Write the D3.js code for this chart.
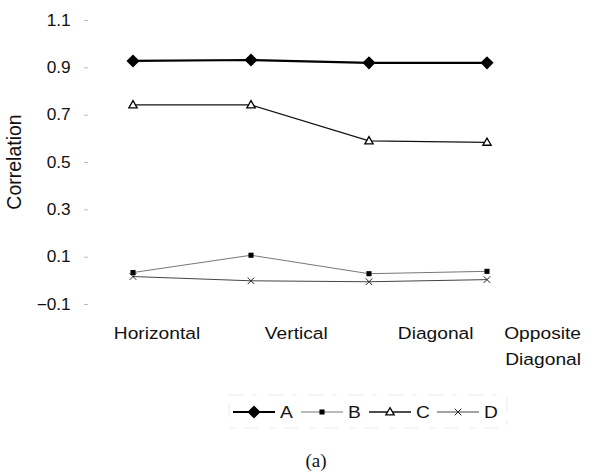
<!DOCTYPE html>
<html>
<head>
<meta charset="utf-8">
<script src="https://cdn.jsdelivr.net/npm/d3@7"></script>
<style>
  body { margin: 0; background: #fff; }
  text { font-family: "Liberation Sans", Arial, sans-serif; fill: #111; }
</style>
</head>
<body>
<div id="chart"></div>
<script>
const categories = ["Horizontal", "Vertical", "Diagonal", "Opposite Diagonal"];
const seriesNames = ["A", "B", "C", "D"];
const valuesA = [0.927, 0.931, 0.919, 0.919];
const valuesB = [0.033, 0.106, 0.028, 0.038];
const valuesC = [0.741, 0.741, 0.589, 0.583];
const valuesD = [0.016, -0.002, -0.006, 0.003];
const yTicks = [-0.1, 0.1, 0.3, 0.5, 0.7, 0.9, 1.1];

const series = [
    { name: "A", values: valuesA, color: "#000", width: 2.2, marker: "diamond" },
    { name: "B", values: valuesB, color: "#777", width: 1, marker: "square" },
    { name: "C", values: valuesC, color: "#111", width: 1.3, marker: "triangle" },
    { name: "D", values: valuesD, color: "#444", width: 1, marker: "cross" }
];

const W = 616, H = 476;
const stretch = 1.13; // the scanned text is a little wide

const svg = d3.select("#chart")
    .append("svg")
    .attr("width", W)
    .attr("height", H);

// scales
const x = d3.scalePoint().domain(categories).range([133, 487]);
const xLabel = d3.scalePoint().domain(categories).range([157, 575]);
const y = d3.scaleLinear().domain([-0.1, 1.1]).range([304, 20]);

// y axis: labels and small faint ticks, no axis line
const yAxis = svg.append("g")
    .attr("transform", "translate(88,0)")
    .call(d3.axisLeft(y).tickValues(yTicks).tickSize(4).tickPadding(12)
        .tickFormat(d3.format(".1f")));
yAxis.select(".domain").remove();
yAxis.selectAll(".tick line").attr("stroke", "#bbb");
yAxis.selectAll(".tick text")
    .style("font-size", "16px")
    .style("font-family", "'Liberation Sans', Arial, sans-serif")
    .attr("fill", "#111")
    .attr("transform", `scale(1.08,1)`);

svg.append("text")
    .attr("transform", "translate(21,162) rotate(-90)")
    .attr("text-anchor", "middle")
    .style("font-size", "19.5px")
    .text("Correlation");

// category labels
categories.forEach((c, i) => {
    const words = c.split(" ");
    const last = i === categories.length - 1;
    const g = svg.append("g")
        .attr("transform", `translate(${last ? 581 : xLabel(c)},339) scale(${stretch},1)`);
    const t = g.append("text")
        .attr("text-anchor", last ? "end" : "middle")
        .style("font-size", "17px");
    words.forEach((w, j) => {
        t.append("tspan")
            .attr("x", 0)
            .attr("dy", j === 0 ? 0 : 26)
            .text(w);
    });
});

// markers
function drawMarker(g, type, cx, cy) {
    if (type === "diamond") {
        g.append("path")
            .attr("d", d3.symbol(d3.symbolDiamond2, 110)())
            .attr("transform", `translate(${cx},${cy})`)
            .attr("fill", "#000");
    } else if (type === "square") {
        g.append("path")
            .attr("d", d3.symbol(d3.symbolSquare, 26)())
            .attr("transform", `translate(${cx},${cy})`)
            .attr("fill", "#000");
    } else if (type === "triangle") {
        g.append("path")
            .attr("d", d3.symbol(d3.symbolTriangle, 30)())
            .attr("transform", `translate(${cx},${cy + 0.5})`)
            .attr("fill", "#fff")
            .attr("stroke", "#000")
            .attr("stroke-width", 1.3);
    } else {
        g.append("path")
            .attr("d", d3.symbol(d3.symbolX, 30)())
            .attr("transform", `translate(${cx},${cy})`)
            .attr("fill", "none")
            .attr("stroke", "#222")
            .attr("stroke-width", 1);
    }
}

// lines
const line = d3.line()
    .x((d, i) => x(categories[i]))
    .y(d => y(d));

const order = [1, 3, 2, 0];
order.forEach(k => {
    const s = series[k];
    const g = svg.append("g");
    g.append("path")
        .datum(s.values)
        .attr("d", line)
        .attr("fill", "none")
        .attr("stroke", s.color)
        .attr("stroke-width", s.width);
    s.values.forEach((v, i) => drawMarker(g, s.marker, x(categories[i]), y(v)));
});

// legend
const legend = svg.append("g");
legend.append("rect")
    .attr("x", 229).attr("y", 395)
    .attr("width", 278).attr("height", 33)
    .attr("fill", "none")
    .attr("stroke", "#e2e2e2")
    .attr("stroke-width", 0.7)
    .attr("stroke-dasharray", "14 9 5 12");

series.forEach((s, i) => {
    const lx = 233 + i * 68;
    const ly = 412;
    const g = legend.append("g");
    g.append("line")
        .attr("x1", lx).attr("x2", lx + 42)
        .attr("y1", ly).attr("y2", ly)
        .attr("stroke", s.color)
        .attr("stroke-width", s.width);
    drawMarker(g, s.marker, lx + 21, ly);
    g.append("text")
        .attr("transform", `translate(${lx + 47},${ly + 6}) scale(${stretch},1)`)
        .style("font-size", "17px")
        .text(seriesNames[i]);
});

svg.append("text")
    .attr("x", 316)
    .attr("y", 467)
    .attr("text-anchor", "middle")
    .style("font-family", "'Liberation Serif', 'Times New Roman', serif")
    .style("font-size", "19px")
    .text("(a)");
</script>
</body>
</html>
